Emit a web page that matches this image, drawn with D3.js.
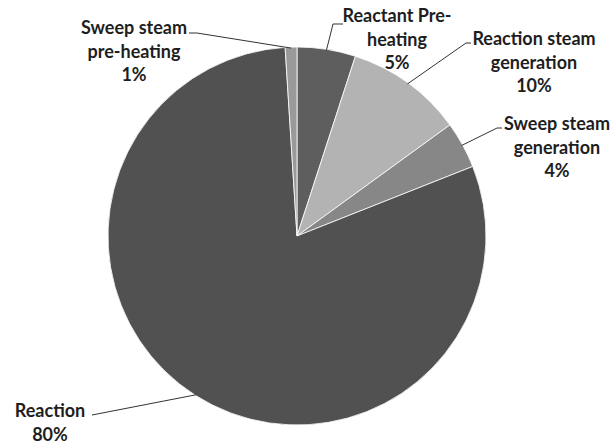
<!DOCTYPE html>
<html>
<head>
<meta charset="utf-8">
<script src="https://cdn.jsdelivr.net/npm/d3@7"></script>
<style>
  html, body { margin: 0; padding: 0; background: #fff; }
  svg { display: block; }
</style>
</head>
<body>
<svg id="chart" width="613" height="443"></svg>
<script>
// ---- Data ----
const categories = ["Reactant Pre-heating", "Reaction steam generation", "Sweep steam generation", "Reaction", "Sweep steam pre-heating"];
const values = [5, 10, 4, 80, 1];
const labelLines = [["Reactant Pre-", "heating"], ["Reaction steam", "generation"], ["Sweep steam", "generation"], ["Reaction"], ["Sweep steam", "pre-heating"]];
const colors = ["#5e5e5e", "#b3b3b3", "#878787", "#515151", "#9a9a9a"];

// ---- Layout ----
const width = 613, height = 443;
const cx = 297, cy = 236, r = 189;
const lineH = 23.5;
// label block anchor: centre x, centre y of first line; leader elbow points
const labelLayout = [
  { x: 397, y: 15, elbow: [[333, 24], [343, 24]] },
  { x: 534, y: 38, elbow: [[466, 43], [471, 43]] },
  { x: 557, y: 123, elbow: [[497, 128], [502, 128]] },
  { x: 50, y: 410, elbow: [[92, 415]] },
  { x: 134, y: 27, elbow: [[197, 33], [189, 33]] }
];

const svg = d3.select("#chart");
const g = svg.append("g").attr("transform", `translate(${cx},${cy})`);

const data = categories.map((c, i) => ({ name: c, value: values[i], i }));
const pie = d3.pie().value(d => d.value).sort(null).startAngle(0).endAngle(2 * Math.PI);
const arcs = pie(data);
const arc = d3.arc().innerRadius(0).outerRadius(r);
const edgeArc = d3.arc().innerRadius(r - 1).outerRadius(r - 1);

g.selectAll("path.slice")
  .data(arcs)
  .join("path")
  .attr("class", "slice")
  .attr("d", arc)
  .attr("fill", d => colors[d.data.i])
  .attr("stroke", "#ffffff")
  .attr("stroke-width", 0.8);

// leader lines
const lineGen = d3.line();
arcs.forEach(d => {
  const c = edgeArc.centroid(d);
  const start = [c[0] + cx, c[1] + cy];
  const pts = [start].concat(labelLayout[d.data.i].elbow);
  svg.append("path")
    .attr("d", lineGen(pts))
    .attr("fill", "none")
    .attr("stroke", "#333")
    .attr("stroke-width", 1);
});

// labels
arcs.forEach(d => {
  const L = labelLayout[d.data.i];
  const lines = labelLines[d.data.i].concat([Math.round(d.data.value) + "%"]);
  const t = svg.append("text")
    .attr("text-anchor", "middle")
    .attr("font-family", "Lato, 'Open Sans', sans-serif")
    .attr("font-weight", 700)
    .attr("font-size", 18)
    .attr("fill", "#1e1e1e");
  lines.forEach((s, k) => {
    t.append("tspan")
      .attr("x", L.x)
      .attr("y", L.y + k * lineH)
      .attr("dominant-baseline", "central")
      .text(s);
  });
});
</script>
</body>
</html>
